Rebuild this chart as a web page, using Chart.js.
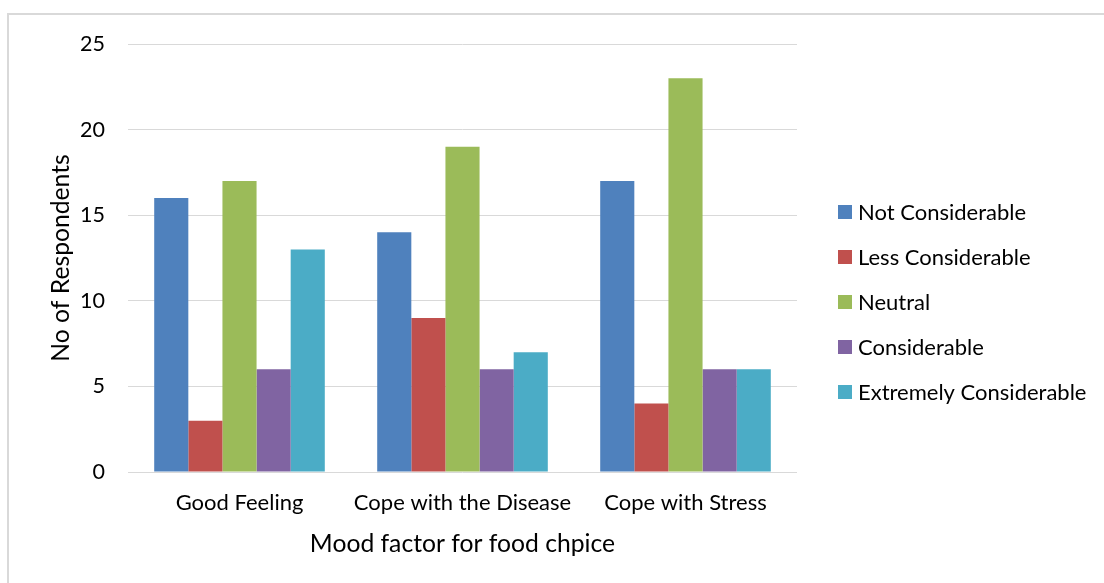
<!DOCTYPE html>
<html>
<head>
<meta charset="utf-8">
<script src="https://cdn.jsdelivr.net/npm/chart.js@4/dist/chart.umd.min.js"></script>
<style>
  html, body { margin: 0; padding: 0; background: #fff; overflow: hidden; }
  #frame {
    position: absolute; left: 7px; top: 13px; width: 1200px; height: 700px;
    border-left: 2px solid #d9d9d9; border-top: 2px solid #d9d9d9;
  }
  #chart { position: absolute; left: 0; top: 0; }
</style>
</head>
<body>
<div id="frame"></div>
<canvas id="chart" width="1104" height="583"></canvas>
<script>
// Categories and series
const categories = ['Good Feeling', 'Cope with the Disease', 'Cope with Stress'];
const notConsiderable = [16, 14, 17];
const lessConsiderable = [3, 9, 4];
const neutral = [17, 19, 23];
const considerable = [6, 6, 6];
const extremelyConsiderable = [13, 7, 6];
const seriesNames = ['Not Considerable', 'Less Considerable', 'Neutral', 'Considerable', 'Extremely Considerable'];
const seriesColors = ['#4F81BD', '#C0504D', '#9BBB59', '#8064A2', '#4BACC6'];
const yTicks = [0, 5, 10, 15, 20, 25];

const seriesValues = [notConsiderable, lessConsiderable, neutral, considerable, extremelyConsiderable];

const FONT = 'Lato, "Open Sans", sans-serif';
Chart.defaults.font.family = FONT;
Chart.defaults.color = '#000';

// Legend drawn in the space reserved to the right of the plot, one row per dataset
const sideLegend = {
  id: 'sideLegend',
  afterDraw(chart, args, opts) {
    const { ctx, chartArea } = chart;
    const x = chartArea.right + opts.offsetX;
    ctx.save();
    ctx.font = `${opts.fontSize}px ${FONT}`;
    ctx.textBaseline = 'middle';
    ctx.textAlign = 'left';
    chart.data.datasets.forEach((ds, i) => {
      const cy = chartArea.top + opts.firstRowY + i * opts.rowGap;
      ctx.fillStyle = ds.backgroundColor;
      ctx.fillRect(x, cy - opts.box / 2, opts.box, opts.box);
      ctx.fillStyle = '#000';
      ctx.fillText(ds.label, x + opts.box + opts.textGap, cy + 1);
    });
    ctx.restore();
  }
};

new Chart(document.getElementById('chart'), {
  type: 'bar',
  data: {
    labels: categories,
    datasets: seriesNames.map((name, i) => ({
      label: name,
      data: seriesValues[i],
      backgroundColor: seriesColors[i],
      borderWidth: 0,
      categoryPercentage: 0.765,
      barPercentage: 1.0
    }))
  },
  options: {
    responsive: false,
    devicePixelRatio: 1,
    animation: false,
    layout: { padding: { top: 44, bottom: 22, left: 20, right: 307 } },
    plugins: {
      tooltip: { enabled: false },
      legend: { display: false },
      sideLegend: { offsetX: 41, firstRowY: 168, rowGap: 45, box: 14, textGap: 6, fontSize: 22 }
    },
    scales: {
      x: {
        grid: { display: false, drawTicks: false },
        border: { display: false },
        ticks: { padding: 18, font: { size: 22 }, color: '#000', maxRotation: 0 },
        title: {
          display: true,
          text: 'Mood factor for food chpice',
          font: { size: 24.7 },
          color: '#000',
          padding: { top: 14, bottom: 2 }
        },
        afterFit: (scale) => { scale.height = 89; }
      },
      y: {
        min: 0,
        max: 25,
        afterBuildTicks: (scale) => { scale.ticks = yTicks.map(v => ({ value: v })); },
        grid: { color: '#d9d9d9', lineWidth: 1, drawTicks: false },
        border: { display: false },
        ticks: { padding: 23, font: { size: 21.5 }, color: '#000' },
        title: {
          display: true,
          text: 'No of Respondents',
          font: { size: 24.7 },
          color: '#000',
          padding: { top: 26, bottom: 6 }
        },
        afterFit: (scale) => { scale.width = 108; }
      }
    }
  },
  plugins: [sideLegend]
});
</script>
</body>
</html>
